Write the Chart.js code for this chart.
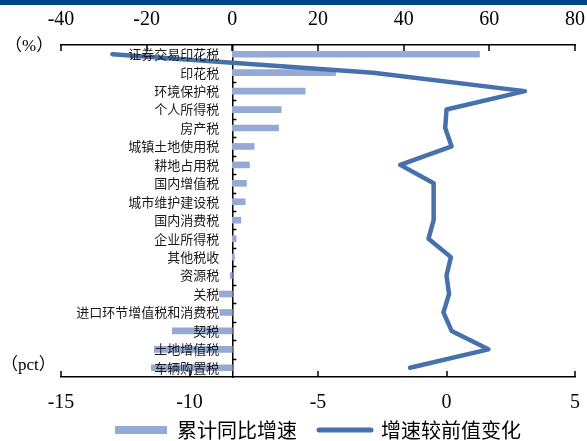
<!DOCTYPE html>
<html>
<head>
<meta charset="utf-8">
<script src="https://cdn.jsdelivr.net/npm/chart.js@4.4.1/dist/chart.umd.min.js"></script>
<style>
  html, body { margin: 0; padding: 0; background: #fff; }
  #wrap { position: relative; width: 587px; height: 441px; }
  #band { position: absolute; left: 0; top: 0; width: 587px; height: 5px; background: #00468b; }
</style>
</head>
<body>
<div id="wrap">
  <canvas id="taxChart" width="587" height="441"></canvas>
  <div id="band"></div>
</div>
<script>
// categories, top to bottom
const categories = [
  '证券交易印花税', '印花税', '环境保护税', '个人所得税', '房产税', '城镇土地使用税',
  '耕地占用税', '国内增值税', '城市维护建设税', '国内消费税', '企业所得税', '其他税收',
  '资源税', '关税', '进口环节增值税和消费税', '契税', '土地增值税', '车辆购置税'
];
// 累计同比增速 (%), top axis
const ytdGrowth = [57.7, 24.1, 17.0, 11.4, 10.8, 5.1, 4.0, 3.3, 3.0, 2.0, 0.9, 0.5, -0.5, -3.0, -2.9, -14.0, -18.2, -18.9];
// 增速较前值变化 (pct), bottom axis
const changeVsPrev = [-13.0, -2.85, 3.05, 0.0, -0.05, 0.2, -1.8, -0.5, -0.5, -0.5, -0.7, 0.17, 0.0, 0.1, -0.12, 0.2, 1.63, -1.42];

const topTicks = [-40, -20, 0, 20, 40, 60, 80];
const bottomTicks = [-15, -10, -5, 0, 5];

const barColor = '#94a9d3';
const lineColor = '#4671aa';
const numFont = { family: 'Liberation Serif', size: 20 };

// inward tick marks, unit captions, legend nudge
const axisMarks = {
  id: 'axisMarks',
  afterLayout(chart) {
    // legend sits tighter under the bottom axis than its padding allows
    chart.legend.top -= 19;
    chart.legend.bottom -= 19;
  },
  beforeDatasetsDraw(chart) {
    const ctx = chart.ctx;
    const area = chart.chartArea;
    const xs = chart.scales.x;
    const x2 = chart.scales.x2;
    const ys = chart.scales.y;
    ctx.save();
    ctx.strokeStyle = '#000';
    ctx.lineWidth = 1.5;
    ctx.beginPath();
    topTicks.forEach(v => {
      const px = Math.round(xs.getPixelForValue(v));
      ctx.moveTo(px, area.top);
      ctx.lineTo(px, area.top + 6);
    });
    bottomTicks.forEach(v => {
      const px = Math.round(x2.getPixelForValue(v));
      ctx.moveTo(px, area.bottom);
      ctx.lineTo(px, area.bottom - 6);
    });
    const x0 = xs.getPixelForValue(0);
    for (let i = 1; i < categories.length; i++) {
      const py = Math.round(ys.getPixelForValue(i - 0.5)) + 0.5;
      ctx.moveTo(x0, py);
      ctx.lineTo(x0 + 4, py);
    }
    ctx.stroke();
    ctx.restore();
  },
  afterDraw(chart) {
    const ctx = chart.ctx;
    ctx.save();
    ctx.fillStyle = '#000';
    ctx.textBaseline = 'middle';
    ctx.font = '17px "Liberation Serif", "Noto Sans CJK SC"';
    ctx.fillText('（%）', 5, 47);
    ctx.fillText('（pct）', 1, 366);
    ctx.restore();
  }
};

new Chart(document.getElementById('taxChart'), {
  data: {
    labels: categories,
    datasets: [
      {
        type: 'bar',
        label: '累计同比增速',
        data: ytdGrowth,
        xAxisID: 'x',
        yAxisID: 'y',
        backgroundColor: barColor,
        barThickness: 6,
        order: 1
      },
      {
        type: 'line',
        label: '增速较前值变化',
        data: changeVsPrev,
        xAxisID: 'x2',
        yAxisID: 'y',
        borderColor: lineColor,
        backgroundColor: lineColor,
        borderWidth: 4.5,
        borderCapStyle: 'round',
        borderJoinStyle: 'round',
        pointRadius: 0,
        tension: 0,
        order: 0
      }
    ]
  },
  options: {
    indexAxis: 'y',
    responsive: false,
    animation: false,
    layout: { padding: { left: 61, right: 12, top: 0, bottom: -28 } },
    scales: {
      x: {
        position: 'top',
        min: -40,
        max: 80,
        afterBuildTicks: s => { s.ticks = topTicks.map(v => ({ value: v })); },
        afterFit: s => { s.height = 45; s.paddingLeft = 0; s.paddingRight = 0; },
        grid: { display: false, drawTicks: false },
        border: { display: true, color: '#000', width: 1.5 },
        ticks: { color: '#000', font: numFont, padding: 13, maxRotation: 0, autoSkip: false }
      },
      x2: {
        position: 'bottom',
        min: -15,
        max: 5,
        afterBuildTicks: s => { s.ticks = bottomTicks.map(v => ({ value: v })); },
        afterFit: s => { s.height = 40; s.paddingLeft = 0; s.paddingRight = 0; },
        grid: { display: false, drawTicks: false },
        border: { display: true, color: '#000', width: 1.5 },
        ticks: { color: '#000', font: numFont, padding: 14, maxRotation: 0, autoSkip: false }
      },
      y: {
        type: 'category',
        position: { x: 0 },
        offset: true,
        grid: { display: false, drawTicks: false },
        border: { display: true, color: '#000', width: 1.5 },
        ticks: {
          z: 1,
          color: '#1a1a1a',
          font: { family: 'Noto Sans CJK SC', size: 13 },
          autoSkip: false,
          // ideographic space keeps the label clear of the axis line
          callback: (v, i) => categories[i] + '\u3000'
        }
      }
    },
    plugins: {
      legend: {
        position: 'bottom',
        labels: {
          color: '#000',
          font: { family: 'Noto Sans CJK SC', size: 20 },
          usePointStyle: true,
          pointStyleWidth: 52,
          boxHeight: 8,
          padding: 22,
          generateLabels: chart => chart.data.datasets.map((ds, i) => ({
            text: ds.label,
            datasetIndex: i,
            fillStyle: ds.backgroundColor,
            strokeStyle: ds.type === 'line' ? ds.borderColor : ds.backgroundColor,
            lineWidth: ds.type === 'line' ? 5 : 0,
            lineCap: 'round',
            pointStyle: ds.type === 'line' ? 'line' : 'rect',
            fontColor: '#000',
            hidden: false
          }))
        }
      },
      tooltip: { enabled: false }
    }
  },
  plugins: [axisMarks]
});
</script>
</body>
</html>
